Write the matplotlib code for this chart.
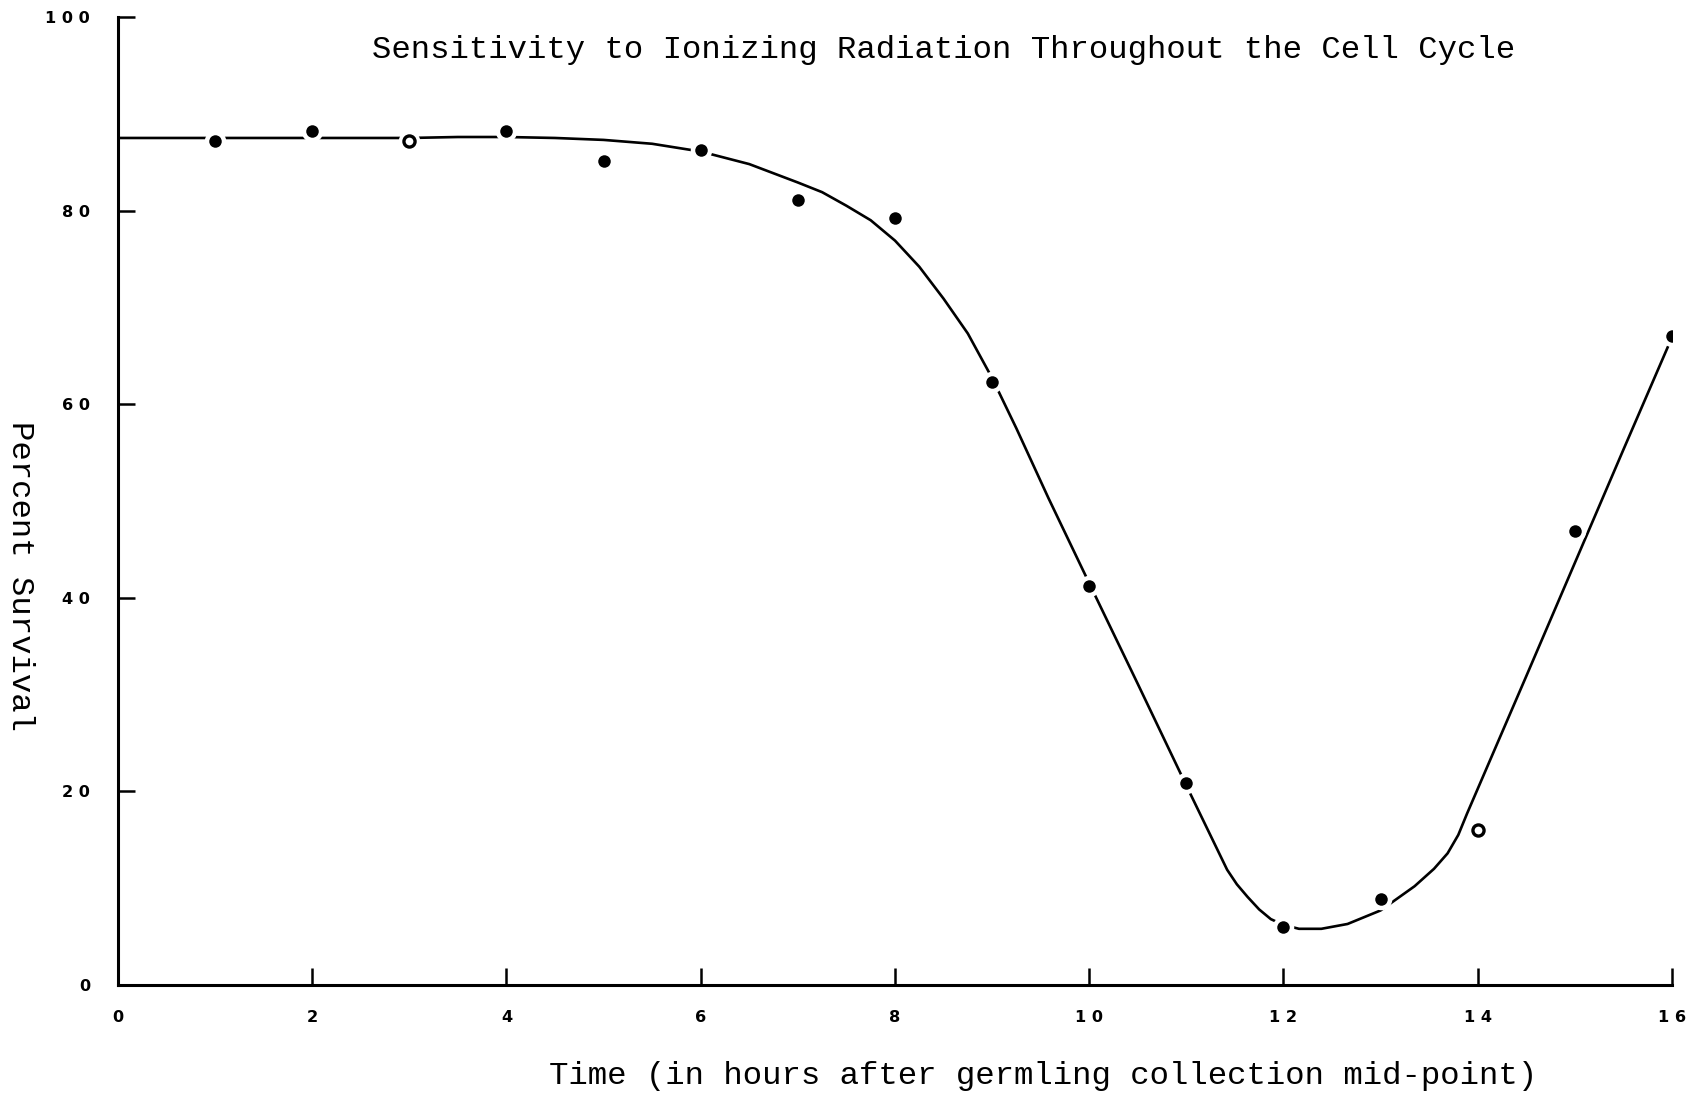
import matplotlib
matplotlib.use("Agg")
from matplotlib import pyplot as plt

# measured survival at each hour
hours = [1, 2, 3, 4, 5, 6, 7, 8, 9, 10, 11, 12, 13, 14, 15, 16]
survival = [87.2, 88.2, 87.2, 88.2, 85.1, 86.3, 81.1, 79.2, 62.3, 41.2,
            20.9, 6.0, 8.9, 16.0, 46.9, 67.0]
hollow_hours = [3, 14]

# hand-fitted curve through the data
curve_x = [0, 0.5, 1, 1.5, 2, 2.5, 3, 3.5, 4, 4.5, 5, 5.5, 6, 6.5, 7, 7.25,
           7.5, 7.75, 8, 8.25, 8.5, 8.75, 9, 9.25, 9.58, 10, 10.5, 11, 11.42,
           11.52, 11.63, 11.75, 11.87, 12, 12.16, 12.39, 12.66, 13, 13.35,
           13.55, 13.69, 13.8, 13.89, 14.5, 15, 15.5, 16]
curve_y = [87.5, 87.5, 87.5, 87.5, 87.5, 87.5, 87.5, 87.6, 87.6, 87.5, 87.3,
           86.9, 86.1, 84.8, 82.9, 81.9, 80.5, 79.0, 76.9, 74.2, 70.9, 67.3,
           62.7, 57.5, 50.3, 41.5, 31.1, 20.6, 11.9, 10.4, 9.1, 7.8, 6.8, 6.2,
           5.8, 5.8, 6.3, 7.7, 10.2, 12.0, 13.6, 15.5, 17.7, 31.9, 43.6, 55.3,
           66.9]

x_ticks = [0, 2, 4, 6, 8, 10, 12, 14, 16]
y_ticks = [0, 20, 40, 60, 80, 100]

mono = "Liberation Mono"

fig = plt.figure(figsize=(16.88, 10.95), dpi=100)
ax = fig.add_axes([0.0699, 0.1005, 0.9206, 0.884])

ax.plot(curve_x, curve_y, color="black", lw=1.9, solid_capstyle="butt",
        solid_joinstyle="round", zorder=2)

filled = [(h, s) for h, s in zip(hours, survival) if h not in hollow_hours]
ring = [(h, s) for h, s in zip(hours, survival) if h in hollow_hours]
fx, fy = [p[0] for p in filled], [p[1] for p in filled]
rx, ry = [p[0] for p in ring], [p[1] for p in ring]

# white halo first so the curve breaks around each dot
ax.plot(fx + rx, fy + ry, "o", color="white", ms=9, mec="white", mew=6.5,
        zorder=3)
ax.plot(fx, fy, "o", color="black", ms=9, mew=0, zorder=4)
ax.plot(rx, ry, "o", mfc="white", mec="black", ms=8, mew=2.4, zorder=4)

ax.set_xlim(0, 16)
ax.set_ylim(0, 100)
ax.spines["top"].set_visible(False)
ax.spines["right"].set_visible(False)
ax.spines["left"].set_linewidth(2.2)
ax.spines["bottom"].set_linewidth(2.2)

ax.set_xticks(x_ticks)
ax.set_yticks(y_ticks)
ax.set_xticklabels([" ".join(str(v)) for v in x_ticks])
ax.set_yticklabels([" ".join(str(v)) for v in y_ticks])
ax.tick_params(axis="both", direction="in", length=12, width=1.8,
               labelsize=11.6)
ax.tick_params(axis="x", pad=18)
ax.tick_params(axis="y", pad=20)
for lab in ax.get_xticklabels() + ax.get_yticklabels():
    lab.set_fontweight("bold")

ax.text(0.5315, 0.966, "Sensitivity to Ionizing Radiation Throughout the Cell Cycle",
        transform=ax.transAxes, ha="center", va="center", fontsize=23.3,
        family=mono)
fig.text(0.618, 0.0174, "Time (in hours after germling collection mid-point)",
         ha="center", va="center", fontsize=23.3, family=mono)
fig.text(0.0118, 0.474, "Percent Survival", rotation=-90, ha="center",
         va="center", fontsize=23.3, family=mono)

plt.savefig("out.png", dpi=100)
plt.close()
